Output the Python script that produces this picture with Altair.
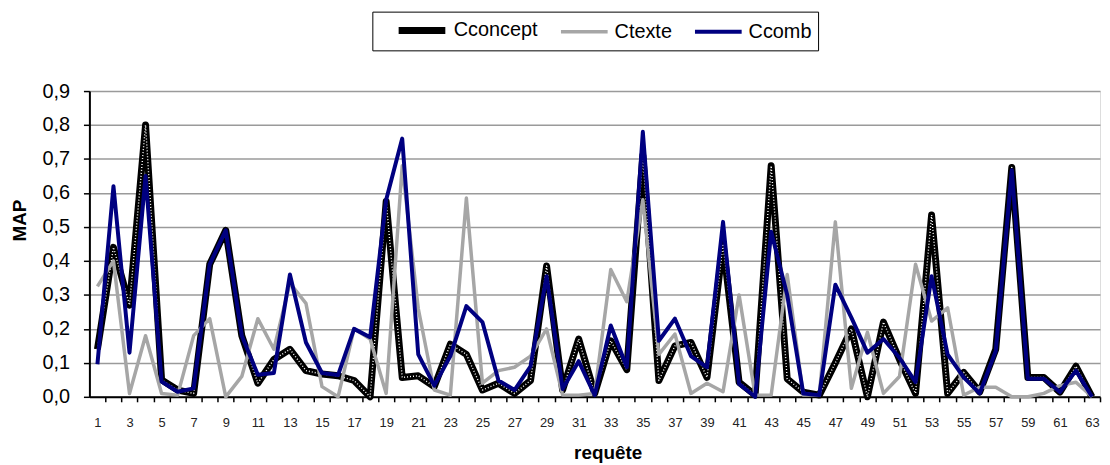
import altair as alt
import pandas as pd

requete = list(range(1, 64))

cconcept = [0.14, 0.44, 0.27, 0.80, 0.05, 0.02, 0.01, 0.39, 0.49, 0.18,
            0.04, 0.11, 0.14, 0.077, 0.067, 0.062, 0.048, 0.0, 0.575, 0.057,
            0.062, 0.03, 0.155, 0.125, 0.02, 0.04, 0.01, 0.048, 0.385, 0.02,
            0.17, 0.01, 0.165, 0.08, 0.71, 0.048, 0.15, 0.16, 0.057, 0.45,
            0.043, 0.005, 0.68, 0.053, 0.014, 0.005, 0.10, 0.20, 0.0, 0.22,
            0.11, 0.01, 0.535, 0.01, 0.072, 0.014, 0.14, 0.675, 0.057, 0.057,
            0.014, 0.09, 0.0]

ctexte = [0.325, 0.40, 0.01, 0.18, 0.01, 0.005, 0.18, 0.23, 0.0, 0.06,
          0.23, 0.14, 0.335, 0.275, 0.03, 0.0, 0.20, 0.17, 0.01, 0.68,
          0.26, 0.02, 0.005, 0.585, 0.04, 0.077, 0.087, 0.12, 0.20, 0.005,
          0.005, 0.01, 0.375, 0.28, 0.58, 0.125, 0.185, 0.01, 0.04, 0.015,
          0.30, 0.005, 0.005, 0.36, 0.005, 0.005, 0.515, 0.025, 0.19, 0.01,
          0.06, 0.39, 0.223, 0.262, 0.005, 0.028, 0.028, 0.0, 0.0, 0.01,
          0.033, 0.043, 0.0]

ccomb = [0.096, 0.62, 0.13, 0.65, 0.045, 0.015, 0.025, 0.39, 0.49, 0.18,
         0.065, 0.07, 0.36, 0.16, 0.07, 0.064, 0.20, 0.175, 0.58, 0.76,
         0.125, 0.033, 0.12, 0.267, 0.22, 0.048, 0.02, 0.09, 0.355, 0.023,
         0.105, 0.005, 0.21, 0.087, 0.78, 0.165, 0.23, 0.12, 0.087, 0.515,
         0.038, 0.0, 0.486, 0.30, 0.01, 0.005, 0.33, 0.233, 0.13, 0.17,
         0.115, 0.043, 0.355, 0.125, 0.057, 0.01, 0.135, 0.667, 0.053, 0.053,
         0.014, 0.077, 0.0]

y_ticks = [0.0, 0.1, 0.2, 0.3, 0.4, 0.5, 0.6, 0.7, 0.8, 0.9]

series = ["Cconcept", "Ctexte", "Ccomb"]
colors = ["#000000", "#a6a6a6", "#000080"]
widths = [7, 3.5, 4]

FONT = "Liberation Sans"

df = pd.DataFrame({
    "requete": requete * 3,
    "MAP": cconcept + ctexte + ccomb,
    "serie": [s for s in series for _ in requete],
})

legend = alt.Legend(
    title=None, orient="none", legendX=285, legendY=-80,
    direction="horizontal", symbolType="M-1,0H3.95", symbolSize=361,
    symbolOffset=17,
    labelFontSize=20, labelFont=FONT, labelColor="black", labelOffset=33,
    columnPadding=4, padding=6, strokeColor="black",
)

x_enc = alt.X(
    "requete:Q",
    scale=alt.Scale(domain=[0.5, 63.5], nice=False, zero=False),
    axis=alt.Axis(
        values=requete, format="d", tickOffset=8.08, labelOffset=-8.08,
        labelExpr="datum.value % 2 == 1 ? datum.label : ''",
        grid=False, domainColor="black", domainWidth=2,
        tickColor="black", tickSize=5, tickWidth=1.5,
        labelPadding=15, labelFontSize=13, labelFont=FONT, labelColor="#222222",
        title="requête", titleFont=FONT, titleFontSize=19, titleFontWeight="bold",
        titleX=522, titleY=56, titleBaseline="middle", titleAlign="center",
    ),
)

y_enc = alt.Y(
    "MAP:Q",
    scale=alt.Scale(domain=[0, 0.9], nice=False, zero=True),
    axis=alt.Axis(
        values=y_ticks, format=".1f",
        labelExpr="replace(datum.label, '.', ',')",
        grid=True, gridColor="#9a9a9a", gridWidth=1.5,
        domainColor="black", domainWidth=2,
        tickColor="black", tickSize=6, tickWidth=1.5,
        labelPadding=14, labelFontSize=20, labelFont=FONT, labelColor="black",
        title="MAP", titleFont=FONT, titleFontSize=19, titleFontWeight="bold",
        titleX=-70, titleY=130, titleAngle=-90, titleBaseline="middle",
        titleAlign="center",
    ),
)

color_enc = alt.Color(
    "serie:N", scale=alt.Scale(domain=series, range=colors), legend=legend
)
width_enc = alt.StrokeWidth(
    "serie:N", scale=alt.Scale(type="ordinal", domain=series, range=widths),
    legend=legend,
)

base = alt.Chart(df)

def line_layer(name):
    return base.transform_filter(alt.datum.serie == name).mark_line(
        strokeJoin="round"
    ).encode(x=x_enc, y=y_enc, color=color_enc, strokeWidth=width_enc)

dots = base.transform_filter(alt.datum.serie == "Cconcept").mark_line(
    color="white", strokeWidth=1.4, strokeDash=[1, 2], strokeJoin="round"
).encode(x=x_enc, y=y_enc)

chart = alt.layer(
    line_layer("Cconcept"), dots, line_layer("Ctexte"), line_layer("Ccomb")
).properties(
    width=1018, height=308,
    autosize=alt.AutoSizeParams(type="none"),
    padding={"left": 82, "top": 82, "right": 2, "bottom": 65},
).configure_view(
    stroke="#9a9a9a", strokeWidth=1.5
).configure(background="white")

chart.save("out.html", embed_options={"renderer": "svg", "actions": False})
